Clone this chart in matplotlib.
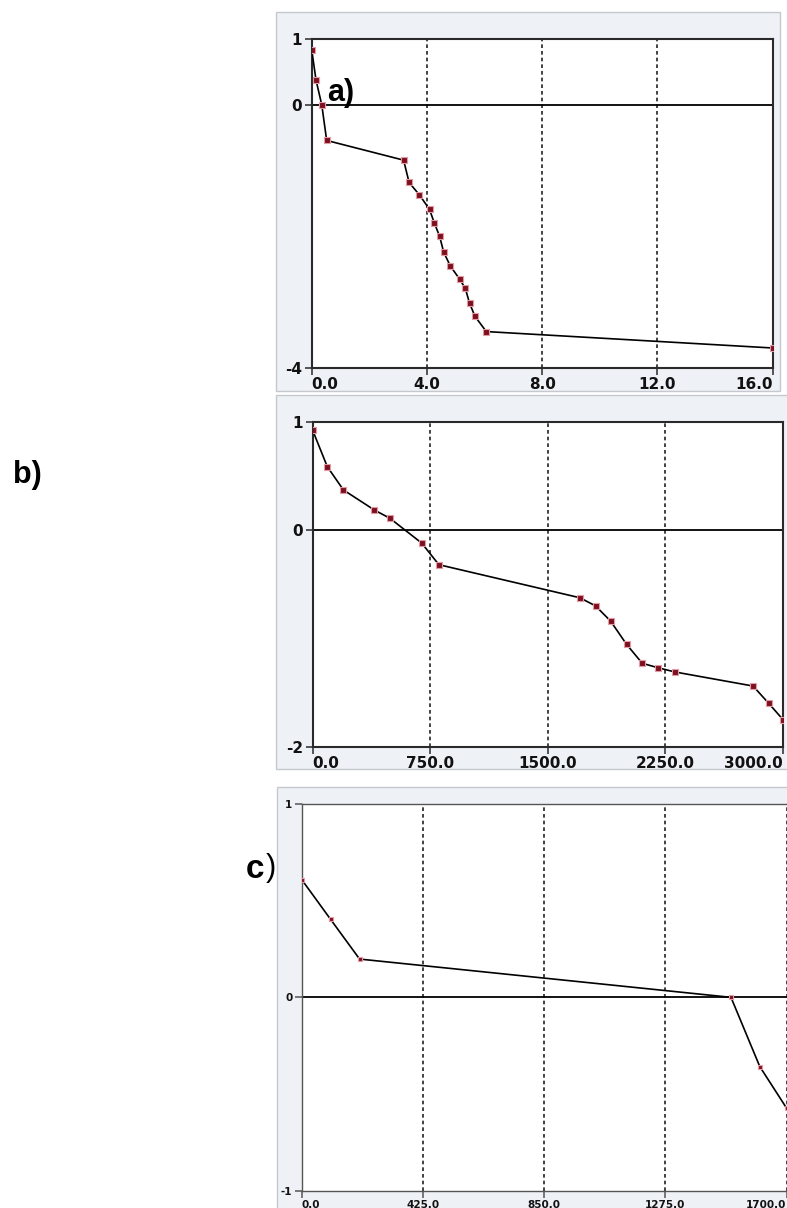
import matplotlib.pyplot as plt
from matplotlib.patches import Rectangle

# data
a_x = [0.0, 0.15, 0.35, 0.52, 3.19, 3.38, 3.74, 4.09, 4.25, 4.44, 4.58, 4.81, 5.13, 5.33, 5.48, 5.67, 6.06, 16.0]
a_y = [0.84, 0.38, 0.0, -0.54, -0.84, -1.18, -1.37, -1.59, -1.79, -2.0, -2.24, -2.45, -2.65, -2.79, -3.02, -3.22, -3.45, -3.70]
a_xticks = [0.0, 4.0, 8.0, 12.0, 16.0]
a_yticks = [-4, 0, 1]

b_x = [0, 93, 196, 393, 493, 695, 805, 1704, 1804, 1900, 2002, 2102, 2200, 2310, 2809, 2909, 3000]
b_y = [0.92, 0.585, 0.37, 0.185, 0.108, -0.12, -0.32, -0.625, -0.70, -0.84, -1.055, -1.23, -1.27, -1.31, -1.44, -1.60, -1.75]
b_xticks = [0.0, 750.0, 1500.0, 2250.0, 3000.0]
b_yticks = [-2, 0, 1]

c_x = [0, 100, 202, 1505, 1606, 1700]
c_y = [0.607, 0.404, 0.198, 0.0, -0.358, -0.573]
c_xticks = [0.0, 425.0, 850.0, 1275.0, 1700.0]
c_yticks = [-1, 0, 1]

W, H = 787, 1208
fig = plt.figure(figsize=(W / 100, H / 100), dpi=100)
fig.patch.set_facecolor('white')


def box(l, t, r, b):
    return [l / W, 1 - b / H, (r - l) / W, (b - t) / H]


# grey window backgrounds
for l, t, r, b in [(276, 12, 780, 391), (276, 395, 790, 769), (277, 787, 790, 1212)]:
    fig.patches.append(Rectangle((l / W, 1 - b / H), (r - l) / W, (b - t) / H,
                                 transform=fig.transFigure, facecolor='#eef1f5',
                                 edgecolor='#c5c9ce', lw=1.0, zorder=-5))


def panel(rect, x, y, xlim, ylim, xticks, yticks, fs, ms, spine_c, spine_w):
    ax = fig.add_axes(rect)
    ax.set_zorder(2)
    ax.set_facecolor('white')
    ax.set_xlim(*xlim)
    ax.set_ylim(*ylim)
    for s in ax.spines.values():
        s.set_color(spine_c)
        s.set_linewidth(spine_w)
    ax.set_xticks(xticks)
    ax.set_yticks(yticks)
    xl = ax.set_xticklabels(['%.1f' % v for v in xticks], fontsize=fs, fontweight='bold')
    ax.set_yticklabels([str(v) for v in yticks], fontsize=fs, fontweight='bold')
    xl[0].set_ha('left')
    xl[-1].set_ha('right')
    ax.tick_params(direction='out', length=5, width=1.1, pad=2, colors=spine_c,
                   labelcolor='#111111')
    ax.grid(axis='x', color='#222222', linestyle=(0, (2.2, 1.8)), lw=1.2)
    ax.axhline(0, color='black', lw=1.3, zorder=2)
    ax.plot(x, y, color='black', lw=1.2, zorder=3)
    ax.plot(x, y, ls='none', marker='s', ms=ms, mfc='#7a1020', mec='#e39aa3',
            mew=0.8, zorder=4)
    return ax


panel(box(311.7, 39.3, 772.7, 367.7), a_x, a_y, (0, 16), (-4, 1),
      a_xticks, a_yticks, 11, 5, '#2a2a2a', 1.5)
panel(box(312.7, 421.7, 783, 746.7), b_x, b_y, (0, 3000), (-2, 1),
      b_xticks, b_yticks, 11, 5, '#2a2a2a', 1.5)
panel(box(302, 804, 790, 1190.7), c_x, c_y, (0, 1712), (-1, 1),
      c_xticks, c_yticks, 7.5, 3, '#555555', 1.0)

# panel labels
fig.text(341 / W, 1 - 93 / H, 'a)', fontsize=22, fontweight='bold',
         family='Liberation Sans', ha='center', va='center', zorder=5)
fig.text(27 / W, 1 - 475 / H, 'b)', fontsize=22, fontweight='bold',
         family='Liberation Sans', ha='center', va='center')
fig.text(246 / W, 1 - 870 / H, 'c', fontsize=24, fontweight='bold',
         family='Liberation Sans', ha='left', va='center')
fig.text(266 / W, 1 - 868 / H, ')', fontsize=22,
         family='Liberation Sans', ha='left', va='center')

plt.savefig('out.png', dpi=100)
